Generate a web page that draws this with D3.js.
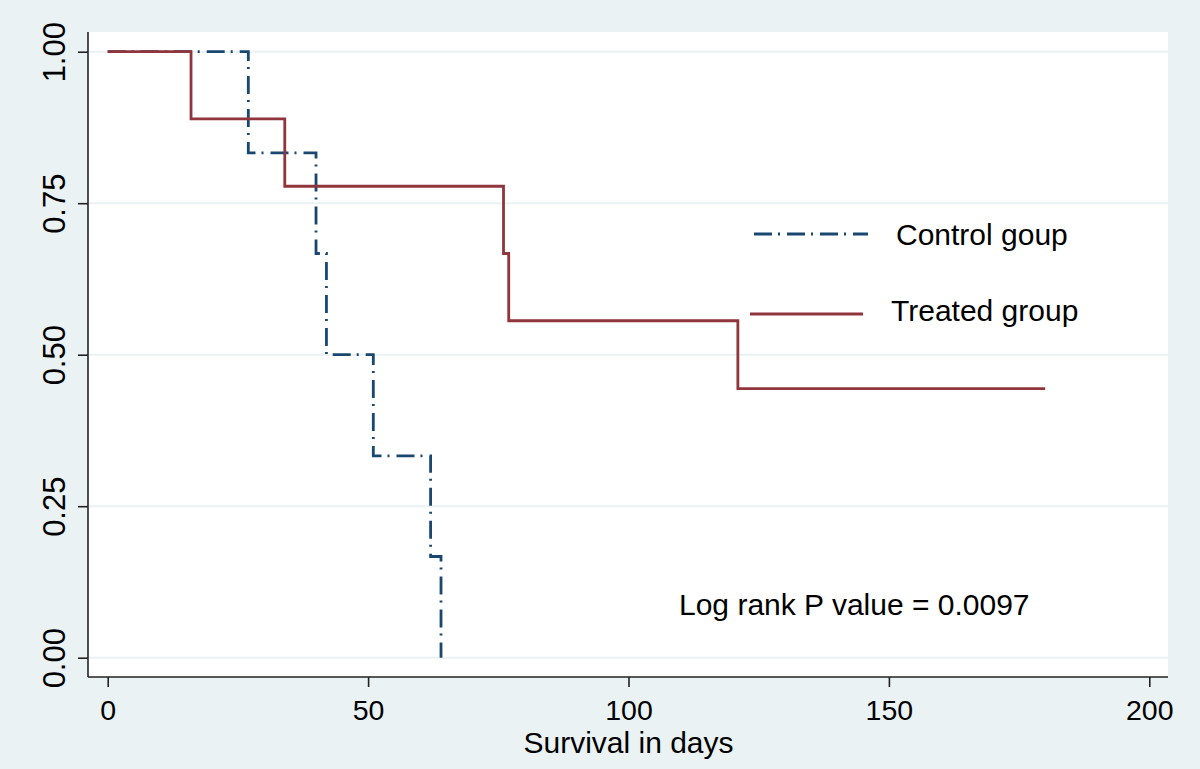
<!DOCTYPE html>
<html>
<head>
<meta charset="utf-8">
<script src="https://cdn.jsdelivr.net/npm/d3@7"></script>
<style>
  html, body { margin: 0; padding: 0; background: #eaf2f3; }
  svg { display: block; font-family: "Liberation Sans", Arial, sans-serif; }
</style>
</head>
<body>
<svg id="chart" width="1200" height="769"></svg>
<script>
// ---- Data ----
const controlTimes = [0, 27, 40, 42, 51, 62, 64];
const controlSurv  = [1.000, 0.833, 0.667, 0.500, 0.333, 0.167, 0.000];
const treatedTimes = [0, 16, 34, 76, 77, 121, 180];
const treatedSurv  = [1.000, 0.889, 0.778, 0.667, 0.556, 0.444, 0.444];
const xTicks = [0, 50, 100, 150, 200];
const yTicks = [0, 0.25, 0.5, 0.75, 1];
const yTickLabels = ["0.00", "0.25", "0.50", "0.75", "1.00"];
const seriesNames = ["Control goup", "Treated group"];
const xTitle = "Survival in days";
const annotation = "Log rank P value = 0.0097";

// ---- Layout ----
const W = 1200, H = 769;
const plot = { left: 88, right: 1168, top: 32, bottom: 677 };
const bg = "#eaf2f3";
const navy = "#1a476f";
const cranberry = "#90353b";
const dashDot = "18,6,2,7";

const svg = d3.select("#chart");
svg.append("rect").attr("width", W).attr("height", H).attr("fill", bg);
svg.append("rect")
  .attr("x", plot.left).attr("y", plot.top)
  .attr("width", plot.right - plot.left).attr("height", plot.bottom - plot.top)
  .attr("fill", "#ffffff");

const x = d3.scaleLinear().domain([0, 200]).range([107.7, 1149.3]);
const y = d3.scaleLinear().domain([0, 1]).range([657.7, 51.7]);

// gridlines
svg.append("g").selectAll("line").data(yTicks).join("line")
  .attr("x1", plot.left + 1).attr("x2", plot.right)
  .attr("y1", d => y(d)).attr("y2", d => y(d))
  .attr("stroke", bg).attr("stroke-width", 2);

// Y axis
const yAxis = d3.axisLeft(y).tickValues(yTicks).tickSize(10).tickSizeOuter(0)
  .tickFormat((d, i) => yTickLabels[i]);
const gy = svg.append("g").attr("transform", `translate(${plot.left},0)`).call(yAxis);
gy.select(".domain").attr("d", `M0,${plot.top}V${plot.bottom}`).attr("stroke", "#222").attr("stroke-width", 1.6);
gy.selectAll(".tick line").attr("stroke", "#222").attr("stroke-width", 1.6);
gy.selectAll(".tick text")
  .attr("x", null).attr("dy", null)
  .attr("transform", "translate(-23,0) rotate(-90)")
  .attr("text-anchor", "middle")
  .attr("font-size", 31).attr("fill", "#000")
  .attr("font-family", "Liberation Sans, Arial, sans-serif");

// X axis
const xAxis = d3.axisBottom(x).tickValues(xTicks).tickSize(10).tickSizeOuter(0);
const gx = svg.append("g").attr("transform", `translate(0,${plot.bottom})`).call(xAxis);
gx.select(".domain").attr("d", `M${plot.left},0H${plot.right}`).attr("stroke", "#222").attr("stroke-width", 1.6);
gx.selectAll(".tick line").attr("stroke", "#222").attr("stroke-width", 1.6);
gx.selectAll(".tick text")
  .attr("y", 43).attr("dy", null)
  .attr("font-size", 28.5).attr("fill", "#000")
  .attr("font-family", "Liberation Sans, Arial, sans-serif");

// X title
svg.append("text").attr("x", (x(0) + x(200)) / 2).attr("y", 753)
  .attr("text-anchor", "middle").attr("font-size", 30).attr("fill", "#000")
  .text(xTitle);

// Step lines
const line = d3.line().curve(d3.curveStepAfter).x(d => x(d[0])).y(d => y(d[1]));
const controlData = controlTimes.map((t, i) => [t, controlSurv[i]]);
const treatedData = treatedTimes.map((t, i) => [t, treatedSurv[i]]);

svg.append("path").datum(controlData).attr("d", line)
  .attr("fill", "none").attr("stroke", navy).attr("stroke-width", 2.8)
  .attr("stroke-dasharray", dashDot);
svg.append("path").datum(treatedData).attr("d", line)
  .attr("fill", "none").attr("stroke", cranberry).attr("stroke-width", 2.8);

// Legend
const legend = [
  { name: seriesNames[0], color: navy, dash: dashDot, x1: 754, x2: 868, ly: 234, tx: 896, ty: 245 },
  { name: seriesNames[1], color: cranberry, dash: null, x1: 750, x2: 863, ly: 314, tx: 891, ty: 321 }
];
const lg = svg.append("g");
lg.selectAll("line").data(legend).join("line")
  .attr("x1", d => d.x1).attr("x2", d => d.x2)
  .attr("y1", d => d.ly).attr("y2", d => d.ly)
  .attr("stroke", d => d.color).attr("stroke-width", 2.8)
  .attr("stroke-dasharray", d => d.dash);
lg.selectAll("text").data(legend).join("text")
  .attr("x", d => d.tx).attr("y", d => d.ty)
  .attr("font-size", 30).attr("fill", "#000")
  .text(d => d.name);

// Annotation
svg.append("text").attr("x", 679).attr("y", 615)
  .attr("font-size", 30).attr("fill", "#000")
  .text(annotation);
</script>
</body>
</html>
